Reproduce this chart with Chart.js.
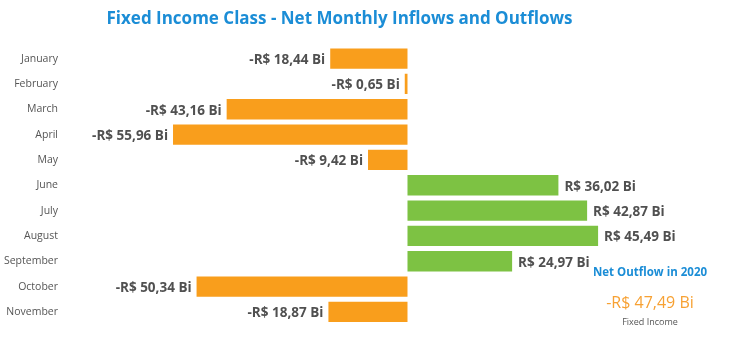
<!DOCTYPE html>
<html>
<head>
<meta charset="utf-8">
<script src="https://cdn.jsdelivr.net/npm/chart.js@4"></script>
<style>
  html, body { margin: 0; padding: 0; background: #fff; }
  #wrap { width: 750px; height: 355px; }
</style>
</head>
<body>
<div id="wrap"><canvas id="c" width="750" height="355"></canvas></div>
<script>
const months = ['January','February','March','April','May','June','July','August','September','October','November'];
const netFlows = [-18.44, -0.65, -43.16, -55.96, -9.42, 36.02, 42.87, 45.49, 24.97, -50.34, -18.87];
const titleText = 'Fixed Income Class - Net Monthly Inflows and Outflows';
const summaryTitle = 'Net Outflow in 2020';
const summaryCaption = 'Fixed Income';

const ORANGE = '#F99E1C';
const GREEN = '#7DC243';
const BLUE = '#1B8DD6';
const FONT = "'Open Sans', 'Noto Sans', sans-serif";

function fmt(v) {
  const s = Math.abs(v).toFixed(2).replace('.', ',');
  return (v < 0 ? '-' : '') + 'R$ ' + s + ' Bi';
}
const netTotal = netFlows.reduce((a, b) => a + b, 0);

const labelPlugin = {
  id: 'barLabels',
  afterDatasetsDraw(chart) {
    const ctx = chart.ctx;
    const meta = chart.getDatasetMeta(0);
    ctx.save();
    ctx.font = 'bold 13.5px ' + FONT;
    ctx.fillStyle = '#505050';
    ctx.textBaseline = 'middle';
    meta.data.forEach((bar, i) => {
      const v = netFlows[i];
      if (v < 0) {
        ctx.textAlign = 'right';
        ctx.fillText(fmt(v), bar.x - 5, bar.y + 1.5);
      } else {
        ctx.textAlign = 'left';
        ctx.fillText(fmt(v), bar.x + 6, bar.y + 1.5);
      }
    });
    // summary annotation
    const ca = chart.chartArea;
    const cx = ca.right - 29;
    ctx.textAlign = 'center';
    ctx.font = 'bold 11.5px ' + FONT;
    ctx.fillStyle = BLUE;
    ctx.fillText(summaryTitle, cx, 273);
    ctx.font = '16px ' + FONT;
    ctx.fillStyle = '#F7A133';
    ctx.fillText(fmt(netTotal), cx, 303);
    ctx.font = '9px ' + FONT;
    ctx.fillStyle = '#555';
    ctx.fillText(summaryCaption, cx, 322);
    ctx.restore();
  }
};

new Chart(document.getElementById('c'), {
  type: 'bar',
  data: {
    labels: months,
    datasets: [{
      data: netFlows,
      backgroundColor: netFlows.map(v => v < 0 ? ORANGE : GREEN),
      borderWidth: 0,
      barPercentage: 0.8,
      categoryPercentage: 1.0
    }]
  },
  options: {
    indexAxis: 'y',
    responsive: false,
    animation: false,
    devicePixelRatio: 1,
    layout: { padding: { left: 0, right: 71, top: 0, bottom: 30.4 } },
    plugins: {
      legend: { display: false },
      tooltip: { enabled: false },
      title: {
        display: true,
        text: titleText,
        color: BLUE,
        font: { family: FONT, size: 17, weight: 'bold' },
        padding: { top: 8.5, bottom: 17 }
      }
    },
    scales: {
      x: { display: false, min: -81.74, max: 64.8 },
      y: {
        grid: { display: false, drawTicks: false },
        border: { display: false },
        ticks: { color: '#555', font: { family: FONT, size: 10.5 }, padding: 7 },
        afterFit(s) { s.width = 65; }
      }
    }
  },
  plugins: [labelPlugin]
});
</script>
</body>
</html>
